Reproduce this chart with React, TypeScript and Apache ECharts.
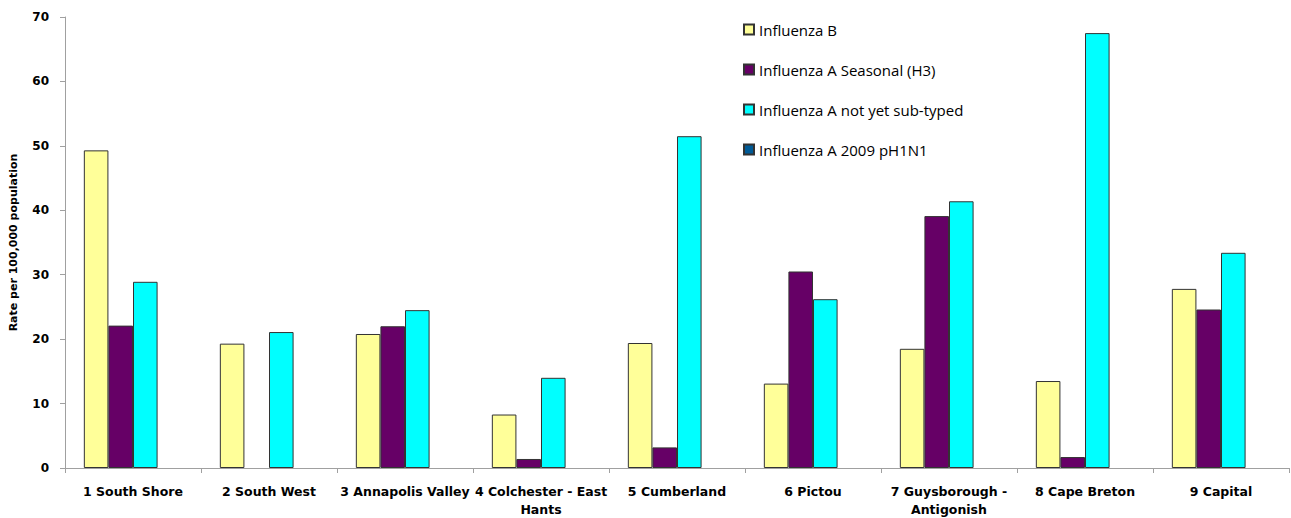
import React, { useEffect, useRef } from "react";
import * as echarts from "echarts";

const categories = [
  "1 South Shore",
  "2 South West",
  "3 Annapolis Valley",
  "4 Colchester - East\nHants",
  "5 Cumberland",
  "6 Pictou",
  "7 Guysborough -\nAntigonish",
  "8 Cape Breton",
  "9 Capital",
];
const seriesNames = [
  "Influenza B",
  "Influenza A Seasonal (H3)",
  "Influenza A not yet sub-typed",
  "Influenza A 2009 pH1N1",
];
const influenzaB = [49.3, 19.3, 20.8, 8.3, 19.4, 13.1, 18.5, 13.5, 27.8];
const influenzaAH3 = [22.1, 0, 22.0, 1.4, 3.2, 30.5, 39.1, 1.7, 24.6];
const influenzaANotSubtyped = [28.9, 21.1, 24.5, 14.0, 51.5, 26.2, 41.4, 67.5, 33.4];
const influenzaAPH1N1 = [0, 0, 0, 0, 0, 0, 0, 0, 0];
const colors = ["#FFFF99", "#660066", "#00FFFF", "#005A96"];
const yTicks = { min: 0, max: 70, interval: 10 };

export default function App() {
  const ref = useRef<HTMLDivElement>(null);
  useEffect(() => {
    if (!ref.current) return;
    const chart = echarts.init(ref.current, undefined, { renderer: "svg" });
    const dataSets = [influenzaB, influenzaAH3, influenzaANotSubtyped, influenzaAPH1N1];
    chart.setOption({
      animation: false,
      grid: { left: 64, right: 2, top: 17, bottom: 46, containLabel: false },
      legend: {
        orient: "vertical",
        left: 738,
        top: 17,
        itemWidth: 10,
        itemHeight: 10,
        itemGap: 25,
        icon: "rect",
        textStyle: { fontFamily: "Open Sans", fontSize: 15, color: "#000" },
        data: seriesNames,
      },
      xAxis: {
        type: "category",
        data: categories,
        axisLine: { lineStyle: { color: "#a0a0a0", width: 1 } },
        axisTick: { show: true, alignWithLabel: false, length: 5, lineStyle: { color: "#a0a0a0" } },
        axisLabel: {
          interval: 0,
          fontFamily: "DejaVu Sans",
          fontWeight: "bold",
          fontSize: 12.5,
          color: "#000",
          margin: 14,
          lineHeight: 18,
        },
      },
      yAxis: {
        type: "value",
        min: yTicks.min,
        max: yTicks.max,
        interval: yTicks.interval,
        name: "Rate per 100,000 population",
        nameLocation: "middle",
        nameGap: 46,
        nameTextStyle: { fontFamily: "DejaVu Sans", fontWeight: "bold", fontSize: 11, color: "#000" },
        splitLine: { show: false },
        axisLine: { show: true, lineStyle: { color: "#a0a0a0", width: 1 } },
        axisTick: { show: true, length: 5, lineStyle: { color: "#a0a0a0" } },
        axisLabel: {
          fontFamily: "DejaVu Sans",
          fontWeight: "bold",
          fontSize: 12,
          color: "#000",
          margin: 16,
        },
      },
      series: seriesNames.map((name, i) => ({
        name,
        type: "bar",
        data: dataSets[i].map((v) => (v === 0 ? null : v)),
        barGap: "0%",
        barCategoryGap: "27.7%",
        itemStyle: { color: colors[i], borderColor: "#333", borderWidth: 1 },
      })),
    });
    return () => chart.dispose();
  }, []);
  return <div ref={ref} style={{ width: 1291, height: 518, position: "absolute", left: 0, top: 0 }} />;
}
